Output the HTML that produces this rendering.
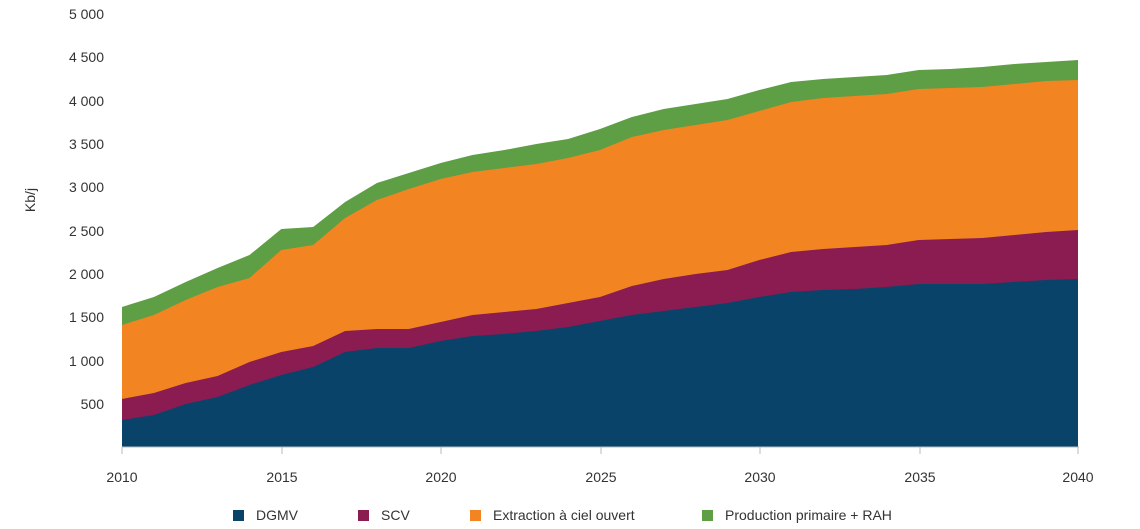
<!DOCTYPE html><html><head><style>body{margin:0;background:#fff}svg{display:block;font-family:"Liberation Sans",Arial,sans-serif}</style></head><body>
<svg width="1140" height="529" viewBox="0 0 1140 529">
<polygon fill="#5e9e45" points="122,307 153.9,297 185.7,282 217.6,268 249.5,255 281.3,229 313.2,227 345.1,202 376.9,183 408.8,173 440.7,163 472.5,155 504.4,150 536.3,144 568.1,139 600,129 631.9,117 663.7,109 695.6,104 727.5,99 759.3,90 791.2,82 823.1,79 854.9,77 886.8,75 918.7,70 950.5,69 982.4,67 1014.3,64 1046.1,62 1078,60 1078,447 122,447"/>
<polygon fill="#f28522" points="122,325 153.9,315 185.7,300 217.6,287 249.5,278 281.3,250 313.2,245 345.1,218 376.9,200 408.8,189 440.7,179 472.5,172 504.4,168 536.3,164 568.1,158 600,150 631.9,137 663.7,130 695.6,125 727.5,120 759.3,111 791.2,102 823.1,98 854.9,96 886.8,94 918.7,89 950.5,88 982.4,87 1014.3,84 1046.1,81 1078,80 1078,447 122,447"/>
<polygon fill="#8a1c52" points="122,399 153.9,393 185.7,383 217.6,376 249.5,362 281.3,352 313.2,346 345.1,331 376.9,329 408.8,329 440.7,322 472.5,315 504.4,312 536.3,309 568.1,303 600,297 631.9,286 663.7,279 695.6,274 727.5,270 759.3,260 791.2,252 823.1,249 854.9,247 886.8,245 918.7,240 950.5,239 982.4,238 1014.3,235 1046.1,232 1078,230 1078,447 122,447"/>
<polygon fill="#0a4369" points="122,420 153.9,415 185.7,404 217.6,397 249.5,385 281.3,375 313.2,367 345.1,352 376.9,348 408.8,348 440.7,341 472.5,336 504.4,334 536.3,331 568.1,327 600,321 631.9,315 663.7,311 695.6,307 727.5,303 759.3,297 791.2,292 823.1,290 854.9,289 886.8,287 918.7,284 950.5,284 982.4,284 1014.3,282 1046.1,280 1078,279 1078,447 122,447"/>
<line x1="122" y1="447" x2="1079" y2="447" stroke="#bbb"/>
<g stroke="#bbb"><line x1="122" y1="447" x2="122" y2="454"/><line x1="282" y1="447" x2="282" y2="454"/><line x1="441" y1="447" x2="441" y2="454"/><line x1="601" y1="447" x2="601" y2="454"/><line x1="760" y1="447" x2="760" y2="454"/><line x1="920" y1="447" x2="920" y2="454"/><line x1="1078" y1="447" x2="1078" y2="454"/></g>
<g font-size="14" fill="#333" text-anchor="end">
<text x="104" y="409">500</text><text x="104" y="366">1 000</text><text x="104" y="322">1 500</text><text x="104" y="279">2 000</text><text x="104" y="236">2 500</text><text x="104" y="192">3 000</text><text x="104" y="149">3 500</text><text x="104" y="106">4 000</text><text x="104" y="62">4 500</text><text x="104" y="19">5 000</text></g>
<g font-size="14" fill="#333" text-anchor="middle">
<text x="122" y="482">2010</text><text x="282" y="482">2015</text><text x="441" y="482">2020</text><text x="601" y="482">2025</text><text x="760" y="482">2030</text><text x="920" y="482">2035</text><text x="1078" y="482">2040</text></g>
<text transform="translate(35,200) rotate(-90)" font-size="14" fill="#333" text-anchor="middle">Kb/j</text>
<g font-size="14" fill="#333">
<rect x="233" y="510" width="11" height="11" fill="#0a4369"/><text x="256" y="520">DGMV</text>
<rect x="358" y="510" width="11" height="11" fill="#8a1c52"/><text x="381" y="520">SCV</text>
<rect x="470" y="510" width="11" height="11" fill="#f28522"/><text x="493" y="520">Extraction à ciel ouvert</text>
<rect x="702" y="510" width="11" height="11" fill="#5e9e45"/><text x="725" y="520">Production primaire + RAH</text></g>
</svg></body></html>
